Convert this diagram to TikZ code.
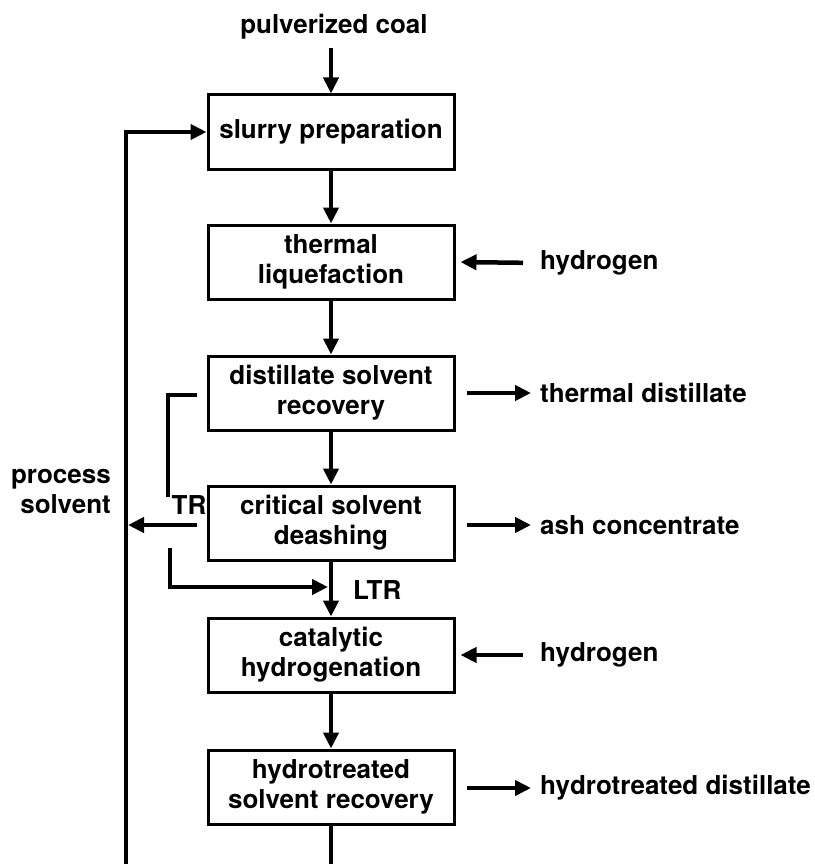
\documentclass[tikz,border=0pt]{standalone}
\usepackage{fontspec}
\setmainfont{TeX Gyre Heros}
\usetikzlibrary{arrows.meta}
\begin{document}
\begin{tikzpicture}[x=1pt,y=-1pt,
  every node/.style={font=\fontsize{26}{30}\selectfont\bfseries, inner sep=0pt},
  proc/.style={draw, line width=3pt, minimum width=246pt, minimum height=74pt, align=center},
  flow/.style={line width=4.5pt, -{Triangle[length=16pt,width=15pt]}},
  plain/.style={line width=4.5pt},
  lbl/.style={anchor=west}]
\useasboundingbox (0,0) rectangle (814,864);

\node[proc] (slurry) at (331,132) {slurry preparation};
\node[proc] (thermal) at (331,262) {thermal\\liquefaction};
\node[proc] (dist) at (331,393) {distillate solvent\\recovery};
\node[proc] (csd) at (331,523) {critical solvent\\deashing};
\node[proc] (cat) at (331,655) {catalytic\\hydrogenation};
\node[proc] (hsr) at (331,787) {hydrotreated\\solvent recovery};

\node (coal) at (334,27) {pulverized coal};
\node[lbl] (h1) at (540,263) {hydrogen};
\node[lbl] (td) at (540,393) {thermal distillate};
\node[lbl] (ash) at (540,525) {ash concentrate};
\node[lbl] (h2) at (540,655) {hydrogen};
\node[lbl] (hd) at (540,788) {hydrotreated distillate};
\node[anchor=east, align=right] (ps) at (111,491) {process\\solvent};
\node (tr) at (189,505) {TR};
\node[lbl] (ltr) at (353,590) {LTR};

% main chain
\draw[flow] (coal.south -| slurry.north) ++(0,8) -- (slurry.north);
\draw[flow] (slurry) -- (thermal);
\draw[flow] (thermal) -- (dist);
\draw[flow] (dist) -- (csd);
\draw[flow] (csd) -- (cat);
\draw[flow] (cat) -- (hsr);
\coordinate (bot) at (331,866);
\draw[plain] (hsr.south) -- (bot);

% process solvent recycle
\coordinate (lb) at (126,866);
\draw[flow] (lb) |- (slurry.west);

% side streams
\draw[flow, shorten <=17pt, shorten >=5pt] (h1.west) -- (thermal.east);
\draw[flow, shorten <=17pt, shorten >=5pt] (h2.west) -- (cat.east);
\coordinate (tdA) at (467,393);
\draw[flow, shorten >=9pt] (tdA) -- (td.west);
\coordinate (ashA) at (467,525);
\draw[flow, shorten >=9pt] (ashA) -- (ash.west);
\coordinate (hdA) at (467,788);
\draw[flow, shorten >=9pt] (hdA) -- (hd.west);

% TR bracket
\coordinate (trA) at (197,395);
\coordinate (trB) at (168,497);
\draw[plain] (trA) -| (trB);
\coordinate (psA) at (197,525);
\coordinate (psB) at (128,525);
\draw[flow] (psA) -- (psB);

% LTR bracket
\coordinate (ltrA) at (170,548);
\coordinate (ltrB) at (328,587);
\draw[flow] (ltrA) |- (ltrB);
\end{tikzpicture}
\end{document}
